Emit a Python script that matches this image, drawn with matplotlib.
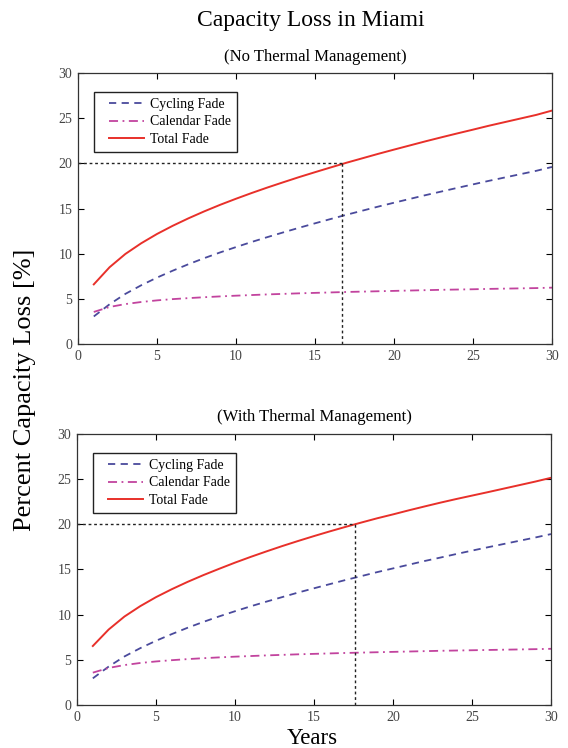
import numpy as np
import matplotlib
matplotlib.use('Agg')
import matplotlib.pyplot as plt
from matplotlib.lines import Line2D
from matplotlib.legend_handler import HandlerLine2D

plt.rcParams['font.family'] = ['Liberation Serif', 'DejaVu Serif']

years = list(range(1, 31))

# No thermal management
cycling_no = [3.05, 4.40, 5.55, 6.50, 7.35, 8.12, 8.84, 9.51, 10.14, 10.73,
              11.30, 11.84, 12.36, 12.87, 13.36, 13.84, 14.31, 14.76, 15.21, 15.64,
              16.06, 16.48, 16.88, 17.28, 17.67, 18.06, 18.43, 18.80, 19.17, 19.60]
calendar_no = [3.55, 4.10, 4.42, 4.65, 4.83, 4.97, 5.08, 5.18, 5.27, 5.35,
               5.42, 5.49, 5.55, 5.61, 5.66, 5.71, 5.76, 5.80, 5.84, 5.88,
               5.92, 5.96, 6.00, 6.03, 6.06, 6.10, 6.13, 6.16, 6.19, 6.24]
total_no = [6.60, 8.50, 9.97, 11.15, 12.18, 13.09, 13.92, 14.69, 15.41, 16.08,
            16.72, 17.33, 17.91, 18.48, 19.02, 19.55, 20.07, 20.56, 21.05, 21.52,
            21.98, 22.44, 22.88, 23.31, 23.73, 24.16, 24.56, 24.96, 25.36, 25.84]
eol_no = 16.7

# With thermal management
cycling_with = [2.95, 4.25, 5.37, 6.29, 7.11, 7.85, 8.55, 9.20, 9.81, 10.38,
                10.93, 11.45, 11.95, 12.45, 12.92, 13.38, 13.84, 14.27, 14.71, 15.12,
                15.53, 15.94, 16.32, 16.71, 17.09, 17.46, 17.82, 18.18, 18.54, 18.92]
calendar_with = [3.58, 4.10, 4.42, 4.65, 4.82, 4.96, 5.08, 5.18, 5.27, 5.35,
                 5.42, 5.49, 5.55, 5.61, 5.66, 5.71, 5.76, 5.80, 5.84, 5.88,
                 5.92, 5.96, 6.00, 6.03, 6.06, 6.09, 6.12, 6.15, 6.18, 6.22]
total_with = [6.53, 8.35, 9.79, 10.94, 11.94, 12.82, 13.63, 14.38, 15.08, 15.76,
              16.40, 17.01, 17.60, 18.16, 18.70, 19.22, 19.72, 20.20, 20.67, 21.10,
              21.55, 21.98, 22.40, 22.80, 23.18, 23.56, 23.95, 24.34, 24.73, 25.15]
eol_with = 17.6

c_cyc = '#4a4a9c'
c_cal = '#c2439e'
c_tot = '#e8302a'

fig = plt.figure(figsize=(5.68, 7.48), dpi=100)
ax1 = fig.add_axes([0.1373, 0.5401, 0.8345, 0.3623])
ax2 = fig.add_axes([0.1356, 0.0575, 0.8345, 0.3623])


def draw(ax, cyc, cal, tot, eol, subtitle):
    ax.plot(years, cyc, '--', color=c_cyc, lw=1.3, dashes=(4, 3), label='Cycling Fade')
    ax.plot(years, cal, '-.', color=c_cal, lw=1.3, dashes=(5, 2.5, 1, 2.5), label='Calendar Fade')
    ax.plot(years, tot, '-', color=c_tot, lw=1.4, label='Total Fade')
    ax.plot([0, eol], [20, 20], color='#222222', lw=1.0, dashes=(2, 2))
    ax.plot([eol, eol], [0, 20], color='#222222', lw=1.0, dashes=(2, 2))
    ax.set_xlim(0, 30)
    ax.set_ylim(0, 30)
    ax.set_xticks([0, 5, 10, 15, 20, 25, 30])
    ax.set_yticks([0, 5, 10, 15, 20, 25, 30])
    ax.tick_params(direction='in', top=True, right=True, length=4, width=0.8,
                   labelsize=10, labelcolor='#444444', pad=4)
    for s in ax.spines.values():
        s.set_linewidth(0.9)
        s.set_color('#333333')
    ax.set_title(subtitle, fontsize=12, pad=9)
    leg = ax.legend(loc='upper left', bbox_to_anchor=(0.034, 0.93), fontsize=10,
                    fancybox=False, edgecolor='#222222', framealpha=1,
                    handlelength=3.2, handletextpad=0.45, borderpad=0.4,
                    labelspacing=0.35, borderaxespad=0,
                    handler_map={Line2D: HandlerLine2D(xpad=0.7)})
    leg.get_frame().set_linewidth(1.0)


draw(ax1, cycling_no, calendar_no, total_no, eol_no, '(No Thermal Management)')
draw(ax2, cycling_with, calendar_with, total_with, eol_with, '(With Thermal Management)')

fig.text(0.548, 0.972, 'Capacity Loss in Miami', ha='center', va='center', fontsize=17)
fig.text(0.044, 0.479, 'Percent Capacity Loss [%]', ha='center', va='center',
         rotation=90, fontsize=19)
fig.text(0.549, 0.005, 'Years', ha='center', va='baseline', fontsize=16.5)

fig.savefig('out.png', dpi=100)
